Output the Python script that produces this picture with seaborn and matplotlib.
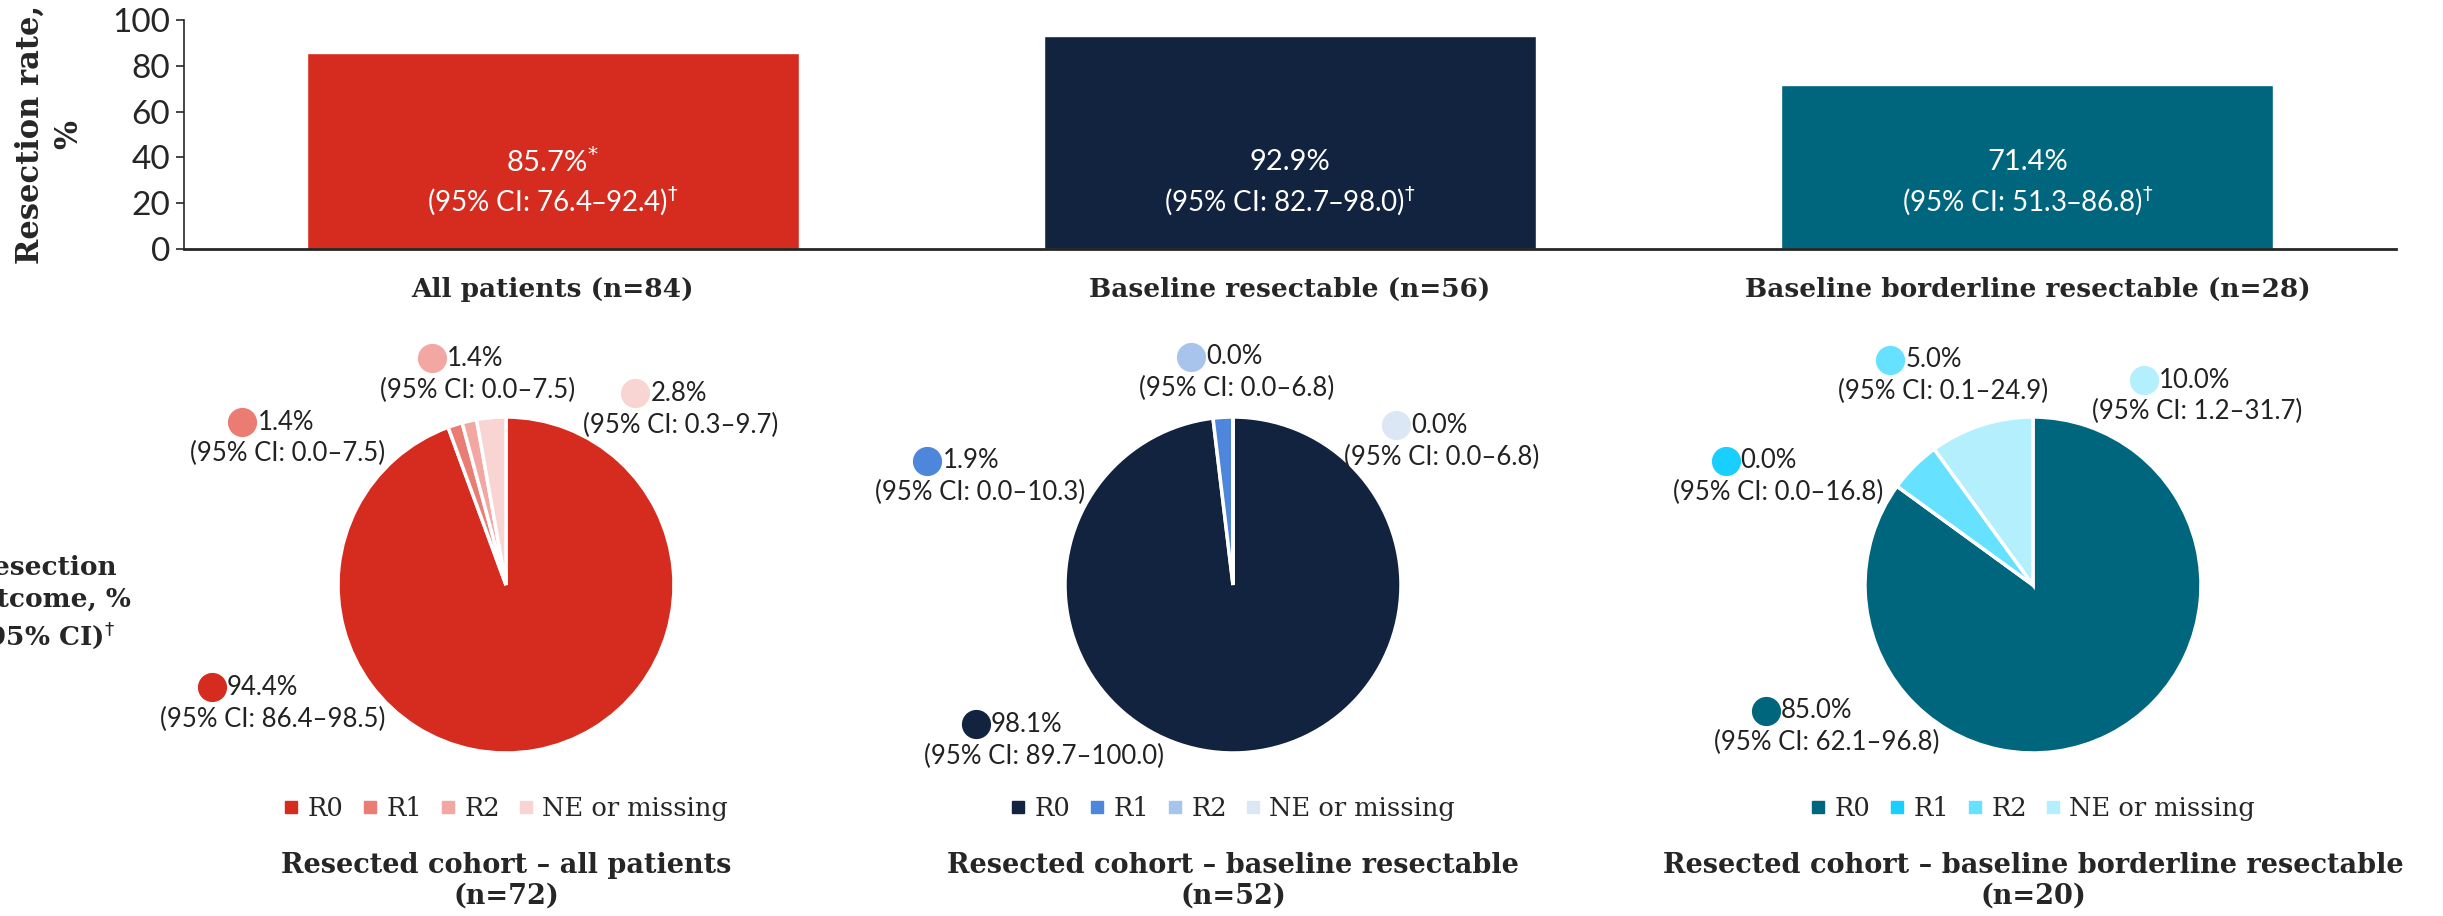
import matplotlib
matplotlib.use("Agg")
import matplotlib.pyplot as plt
import seaborn as sns
import pandas as pd
from matplotlib.lines import Line2D

# --- data ---
groups = ["All patients (n=84)", "Baseline resectable (n=56)", "Baseline borderline resectable (n=28)"]
resection_rate = [85.7, 92.9, 71.4]
rate_ci = ["76.4\u201392.4", "82.7\u201398.0", "51.3\u201386.8"]
rate_mark = ["*", "", ""]

outcomes = ["R0", "R1", "R2", "NE or missing"]
cohort_titles = ["Resected cohort \u2013 all patients\n(n=72)",
                 "Resected cohort \u2013 baseline resectable\n(n=52)",
                 "Resected cohort \u2013 baseline borderline resectable\n(n=20)"]
pct_all = [94.4, 1.4, 1.4, 2.8]
pct_res = [98.1, 1.9, 0.0, 0.0]
pct_bord = [85.0, 0.0, 5.0, 10.0]
ci_all = ["86.4\u201398.5", "0.0\u20137.5", "0.0\u20137.5", "0.3\u20139.7"]
ci_res = ["89.7\u2013100.0", "0.0\u201310.3", "0.0\u20136.8", "0.0\u20136.8"]
ci_bord = ["62.1\u201396.8", "0.0\u201316.8", "0.1\u201324.9", "1.2\u201331.7"]

bar_colors = ["#D62B1F", "#12233F", "#00667E"]
pie_colors = [["#D62B1F", "#EB7C74", "#F2A7A3", "#F8D4D2"],
              ["#12233F", "#4E86DB", "#A8C3EC", "#DCE7F6"],
              ["#00667E", "#19CFFF", "#66E1FF", "#B3EFFC"]]

# label positions around each pie (in pie radii, relative to centre)
label_pos = [[(-1.75, -0.61), (-1.57, 0.97), (-0.44, 1.35), (0.77, 1.14)],
             [(-1.53, -0.83), (-1.82, 0.74), (-0.25, 1.36), (0.97, 0.95)],
             [(-1.59, -0.75), (-1.83, 0.74), (-0.85, 1.34), (0.66, 1.22)]]

sns.set_theme(style="white")
SERIF = "DejaVu Serif"
SANS = "Lato"
plt.rcParams["font.family"] = [SANS, "DejaVu Sans"]
plt.rcParams["mathtext.fontset"] = "dejavusans"

W, H = 2443, 916
fig = plt.figure(figsize=(W / 100, H / 100), dpi=100)

# --- bar chart ---
ax = fig.add_axes([184 / W, 1 - 249 / H, (2396 - 184) / W, (249 - 20) / H])
df = pd.DataFrame({"group": groups, "rate": resection_rate})
sns.barplot(data=df, x="group", y="rate", hue="group", palette=bar_colors,
            width=0.667, legend=False, ax=ax, saturation=1)
ax.set_xlim(-0.5, 2.5)
ax.set_ylim(0, 100)
ax.set_yticks(range(0, 101, 20))
ax.tick_params(axis="y", labelsize=24, length=6, width=1.2, direction="out", left=True, pad=4)
ax.tick_params(axis="x", length=0, pad=20)
for lab in ax.get_xticklabels():
    lab.set_fontfamily(SERIF)
    lab.set_fontweight("bold")
    lab.set_fontsize(19)
for lab in ax.get_yticklabels():
    lab.set_fontfamily(SANS)
sns.despine(ax=ax)
ax.spines["left"].set_linewidth(1.2)
ax.spines["bottom"].set_linewidth(2)
ax.set_xlabel("")
ax.set_ylabel("Resection rate,\n%", fontfamily=SERIF, fontweight="bold", fontsize=22,
              linespacing=1.3, labelpad=20)
for i, (v, ci, m) in enumerate(zip(resection_rate, rate_ci, rate_mark)):
    top = f"{v}%" + (f"$^{{{m}}}$" if m else "")
    ax.text(i, 38, top, ha="center", va="center", color="white", fontsize=21)
    ax.text(i, 21, f"(95% CI: {ci})$^{{\\dagger}}$", ha="center", va="center", color="white", fontsize=20)

# --- pies ---
fig.text(45 / W, 1 - 603 / H, "Resection\noutcome, %\n(95% CI)$^{\\dagger}$", ha="center", va="center",
         fontfamily=SERIF, fontweight="bold", fontsize=19, linespacing=1.3)

centers = [506, 1233, 2033]
cy, r = 585, 168
pcts = [pct_all, pct_res, pct_bord]
cis = [ci_all, ci_res, ci_bord]
hw, hh = 360, 330
for k in range(3):
    cx = centers[k]
    pax = fig.add_axes([(cx - hw) / W, (H - cy - hh) / H, 2 * hw / W, 2 * hh / H])
    pax.pie(pcts[k], colors=pie_colors[k], startangle=90, counterclock=False, radius=1,
            wedgeprops=dict(edgecolor="white", linewidth=2.5))
    pax.set_xlim(-hw / r, hw / r)
    pax.set_ylim(-hh / r, hh / r)
    pax.set_aspect("equal")
    pax.axis("off")
    for j in range(4):
        dx, dy = label_pos[k][j]
        pax.plot(dx, dy, "o", ms=20, color=pie_colors[k][j], clip_on=False)
        pax.text(dx + 0.09, dy, f"{pcts[k][j]:.1f}%", ha="left", va="center", fontsize=18.5, color="#222222")
        pax.text(dx - 0.31, dy - 0.19, f"(95% CI: {cis[k][j]})", ha="left", va="center",
                 fontsize=18.5, color="#222222")
    handles = [Line2D([], [], marker="s", ls="", ms=9, color=c) for c in pie_colors[k]]
    pax.legend(handles, outcomes, loc="center", bbox_to_anchor=(0.5, (hh - 1.33 * r) / (2 * hh)),
               ncol=4, frameon=False, handlelength=0.6, handletextpad=0.35, columnspacing=0.7,
               prop=dict(family=SERIF, size=18.5))
    pax.text(0, -1.76, cohort_titles[k], ha="center", va="center", fontfamily=SERIF,
             fontweight="bold", fontsize=19.5, linespacing=1.2)

fig.savefig("out.png", dpi=100)
